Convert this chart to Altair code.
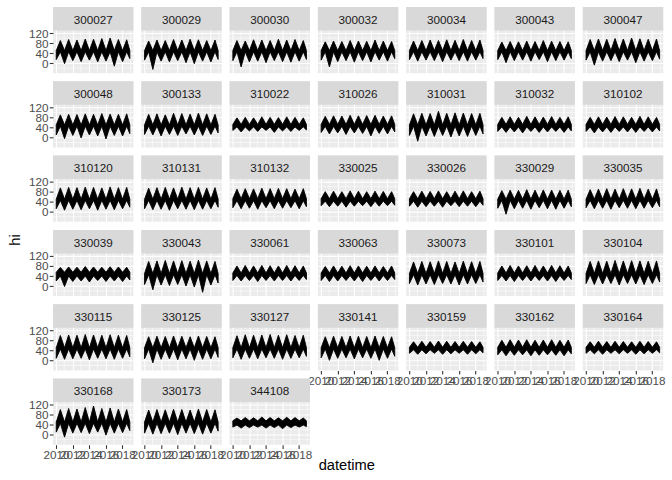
import altair as alt
import pandas as pd

STATIONS = ["300027", "300029", "300030", "300032", "300034", "300043", "300047",
            "300048", "300133", "310022", "310026", "310031", "310032", "310102",
            "310120", "310131", "310132", "330025", "330026", "330029", "330035",
            "330039", "330043", "330061", "330063", "330073", "330101", "330104",
            "330115", "330125", "330127", "330141", "330159", "330162", "330164",
            "330168", "330173", "344108"]

# summer peak (upper envelope) for each year 2010..2018
PEAKS = {
    "300027": [90, 94, 92, 96, 95, 98, 100, 94, 93],
    "300029": [88, 92, 90, 94, 92, 95, 93, 90, 92],
    "300030": [90, 88, 93, 92, 90, 95, 92, 94, 90],
    "300032": [85, 88, 86, 90, 88, 87, 92, 88, 86],
    "300034": [88, 90, 92, 90, 93, 91, 94, 90, 92],
    "300043": [84, 86, 85, 88, 86, 90, 87, 86, 85],
    "300047": [94, 96, 95, 98, 96, 100, 97, 95, 96],
    "300048": [90, 92, 91, 94, 92, 95, 93, 92, 94],
    "300133": [92, 94, 90, 96, 95, 93, 97, 94, 92],
    "310022": [78, 80, 78, 82, 80, 79, 82, 80, 78],
    "310026": [84, 86, 85, 88, 86, 87, 88, 85, 86],
    "310031": [94, 96, 95, 104, 96, 98, 97, 95, 96],
    "310032": [80, 82, 80, 84, 82, 81, 83, 80, 82],
    "310102": [80, 82, 81, 83, 82, 80, 84, 82, 80],
    "310120": [95, 97, 96, 98, 97, 95, 99, 96, 97],
    "310131": [94, 96, 97, 95, 98, 96, 97, 95, 96],
    "310132": [90, 92, 91, 94, 92, 93, 92, 90, 92],
    "330025": [80, 82, 80, 83, 82, 80, 82, 81, 80],
    "330026": [80, 82, 81, 83, 80, 82, 83, 80, 82],
    "330029": [84, 86, 85, 88, 86, 87, 86, 85, 86],
    "330035": [88, 90, 92, 90, 92, 91, 93, 90, 91],
    "330039": [74, 76, 75, 78, 76, 75, 77, 76, 75],
    "330043": [98, 100, 102, 100, 101, 99, 103, 100, 98],
    "330061": [80, 82, 80, 82, 81, 80, 82, 81, 80],
    "330063": [78, 80, 79, 81, 80, 79, 80, 78, 80],
    "330073": [96, 98, 97, 100, 98, 96, 99, 97, 98],
    "330101": [80, 82, 80, 81, 82, 80, 82, 81, 80],
    "330104": [98, 100, 99, 102, 100, 101, 100, 99, 100],
    "330115": [99, 101, 100, 103, 101, 100, 102, 100, 99],
    "330125": [94, 96, 95, 97, 96, 94, 97, 95, 94],
    "330127": [98, 102, 100, 101, 103, 100, 102, 99, 100],
    "330141": [94, 96, 95, 97, 96, 95, 97, 95, 94],
    "330159": [74, 76, 75, 77, 76, 75, 76, 75, 74],
    "330162": [80, 82, 81, 82, 80, 81, 82, 80, 81],
    "330164": [74, 76, 75, 76, 75, 74, 76, 75, 74],
    "330168": [100, 104, 102, 108, 114, 104, 106, 102, 100],
    "330173": [98, 100, 99, 101, 100, 98, 102, 100, 99],
    "344108": [66, 68, 67, 70, 68, 67, 69, 68, 66],
}

# winter trough (lower envelope) for Jan 2010..Jan 2018, then end of record
TROUGHS = {
    "300027": [14, -2, 10, 6, 12, 5, 8, -12, 6, 18],
    "300029": [12, -25, 8, 5, 10, 2, -2, 8, 5, 15],
    "300030": [10, -15, 5, 8, 2, 10, 6, 4, 8, 15],
    "300032": [12, -15, 6, 10, 4, 10, 5, 12, 8, 18],
    "300034": [14, 8, 12, 10, 6, 12, 10, 8, 12, 18],
    "300043": [14, 2, 10, 12, 8, 14, 6, 10, 12, 18],
    "300047": [12, -8, 8, 10, 6, 12, 2, 8, 10, 16],
    "300048": [10, -5, 8, -2, 10, 6, -6, 8, 6, 15],
    "300133": [12, 10, 6, 12, 8, 14, 10, 8, 12, 18],
    "310022": [28, 22, 26, 24, 28, 20, 26, 24, 28, 30],
    "310026": [20, 14, 18, 12, 18, 16, 6, 16, 14, 22],
    "310031": [8, -15, 6, 4, 8, 2, 6, 4, 8, 14],
    "310032": [24, 20, 22, 18, 24, 20, 22, 24, 20, 26],
    "310102": [24, 18, 22, 20, 24, 22, 20, 24, 22, 26],
    "310120": [12, 6, 10, 8, 12, 6, 10, 8, 12, 18],
    "310131": [12, 8, 10, 6, 12, 10, 8, 10, 12, 18],
    "310132": [16, 12, 14, 10, 16, 12, 14, 16, 12, 20],
    "330025": [24, 20, 22, 18, 22, 24, 20, 22, 24, 26],
    "330026": [22, 18, 20, 22, 18, 24, 20, 22, 20, 26],
    "330029": [14, -10, 12, 14, 10, 16, 12, 10, 14, 20],
    "330035": [16, 12, 14, 10, 16, 14, 12, 14, 16, 20],
    "330039": [20, -2, 18, 20, 16, 22, 18, 20, 18, 24],
    "330043": [6, -15, 4, 2, 6, 0, -4, -25, 4, 12],
    "330061": [22, 20, 22, 18, 22, 20, 22, 20, 22, 26],
    "330063": [22, 18, 20, 22, 20, 18, 22, 20, 22, 26],
    "330073": [10, 4, 8, 6, 10, 8, 4, 8, 10, 16],
    "330101": [22, 20, 18, 22, 20, 22, 20, 18, 22, 26],
    "330104": [10, 6, 8, 10, 4, 10, 8, 6, 10, 16],
    "330115": [8, 4, 6, 8, 2, 8, 6, 4, 8, 14],
    "330125": [6, -10, 4, 6, 2, 6, 0, 4, 6, 12],
    "330127": [10, 4, 8, 6, 10, 8, 4, 8, 10, 16],
    "330141": [10, 0, 8, 10, 6, 10, 8, 0, 8, 16],
    "330159": [28, 24, 26, 28, 24, 26, 28, 24, 26, 30],
    "330162": [22, 18, 20, 22, 18, 20, 22, 20, 18, 26],
    "330164": [28, 26, 24, 28, 26, 28, 24, 26, 28, 30],
    "330168": [10, -10, 6, 8, 4, 10, -2, 6, 8, 16],
    "330173": [6, 2, 4, 6, 0, 6, 4, 2, 6, 14],
    "344108": [30, 26, 28, 30, 26, 28, 24, 28, 30, 32],
}

# winter upper edge and summer lower edge of the band, per station
WTOP = {s: 50 for s in STATIONS}
SBOT = {s: 45 for s in STATIONS}
for s in ["310022", "310032", "310102", "330025", "330026", "330061", "330063",
          "330101", "330159", "330162", "330164"]:
    WTOP[s], SBOT[s] = 52, 42
for s in ["310026", "310132"]:
    WTOP[s], SBOT[s] = 52, 44
WTOP["330039"], SBOT["330039"] = 55, 40
WTOP["344108"], SBOT["344108"] = 55, 38

YEARS = [2010, 2011, 2012, 2013, 2014, 2015, 2016, 2017, 2018]
WINTER_DATES = [f"{y}-01-15T00:00:00" for y in YEARS]
SUMMER_DATES = [f"{y}-07-15T00:00:00" for y in YEARS]
END_DATE = "2018-11-30T00:00:00"

MAJOR_X = [2010, 2012, 2014, 2016, 2018]
MINOR_X = [2011, 2013, 2015, 2017, 2019]
MAJOR_Y = [0, 40, 80, 120]
MINOR_Y = [-20, 20, 60, 100]

FONT = "Liberation Sans"
NCOL = 7
W = 80.4
STRIP = 23.5
PANEL = 42.7
H = STRIP + PANEL
GAP = 7.3
Y_LO, Y_HI = -40, 130
Y_TOP = Y_HI + STRIP * (Y_HI - Y_LO) / PANEL

xscale = alt.Scale(domain=[alt.DateTime(year=2009, month=8, date=25),
                           alt.DateTime(year=2019, month=5, date=6)], nice=False)
yscale = alt.Scale(domain=[Y_LO, Y_TOP], nice=False, zero=False)
X_VALUES = [alt.DateTime(year=y, month=1, date=1) for y in MAJOR_X]

X_FULL = alt.Axis(values=X_VALUES, format="%Y", title=None, grid=True,
                  labelOverlap=False, labelFlush=False, labelBound=False)
X_BARE = alt.Axis(values=X_VALUES, title=None, grid=True, labels=False, ticks=False)
Y_FULL = alt.Axis(values=MAJOR_Y, title=None, grid=True, labelOverlap=False,
                  labelFlush=False, labelBound=False)
Y_BARE = alt.Axis(values=MAJOR_Y, title=None, grid=True, labels=False, ticks=False)

vminor_df = pd.DataFrame({"date": [f"{y}-01-01T00:00:00" for y in MINOR_X]})
hminor_df = pd.DataFrame({"val": MINOR_Y})

panels = []
for i, s in enumerate(STATIONS):
    dates, lo, hi = [], [], []
    for k in range(len(YEARS)):
        dates += [WINTER_DATES[k], SUMMER_DATES[k]]
        lo += [TROUGHS[s][k], SBOT[s]]
        hi += [WTOP[s], PEAKS[s][k]]
    dates.append(END_DATE)
    lo.append(TROUGHS[s][-1])
    hi.append(WTOP[s])
    series = pd.DataFrame({"date": dates, "lo": lo, "hi": hi})
    strip_df = pd.DataFrame({"station": [s]})

    xa = X_FULL if i + NCOL >= len(STATIONS) else X_BARE
    ya = Y_FULL if i % NCOL == 0 else Y_BARE

    hminor = alt.Chart(hminor_df).mark_rule(color="white", strokeWidth=0.55).encode(
        y=alt.Y("val:Q", scale=yscale, axis=ya),
        x=alt.value(0), x2=alt.value(W),
    )
    vminor = alt.Chart(vminor_df).mark_rule(color="white", strokeWidth=0.55).encode(
        x=alt.X("date:T", scale=xscale, axis=xa),
        y=alt.value(STRIP), y2=alt.value(H),
    )
    band = alt.Chart(series).mark_area(color="black", opacity=1, stroke="black",
                                       strokeWidth=0.9, strokeJoin="miter").encode(
        x=alt.X("date:T", scale=xscale, axis=xa),
        y=alt.Y("lo:Q", scale=yscale, axis=ya),
        y2="hi:Q",
    )
    strip = alt.Chart(strip_df).mark_rect(color="#D9D9D9").encode(
        x=alt.value(0), x2=alt.value(W), y=alt.value(0), y2=alt.value(STRIP),
    )
    label = alt.Chart(strip_df).mark_text(font=FONT, fontSize=11.7, color="#1A1A1A",
                                          baseline="middle", align="center").encode(
        x=alt.value(W / 2), y=alt.value(STRIP / 2 + 1), text="station:N",
    )
    panels.append(alt.layer(hminor, vminor, band, strip, label).properties(width=W, height=H))

grid = alt.concat(*panels, columns=NCOL, spacing=GAP, bounds="flush").properties(
    title=alt.TitleParams("datetime", orient="bottom", anchor="middle", offset=-3))

chart = alt.vconcat(grid).properties(
    title=alt.TitleParams("hi", orient="left", anchor="middle", offset=6),
    padding={"left": 7, "top": 7, "right": 4, "bottom": 2},
).configure_view(fill="#EBEBEB", stroke=None).configure_axis(
    labelFont=FONT, labelFontSize=11.7, labelColor="#4D4D4D", tickColor="#333333",
    tickSize=3.7, tickWidth=1.07, domain=False, gridColor="white", gridWidth=1.07,
    labelPadding=1.2,
).configure_title(font=FONT, fontSize=14.7, fontWeight="normal", color="black")

chart.save("out.html", embed_options={"renderer": "svg", "actions": False})
